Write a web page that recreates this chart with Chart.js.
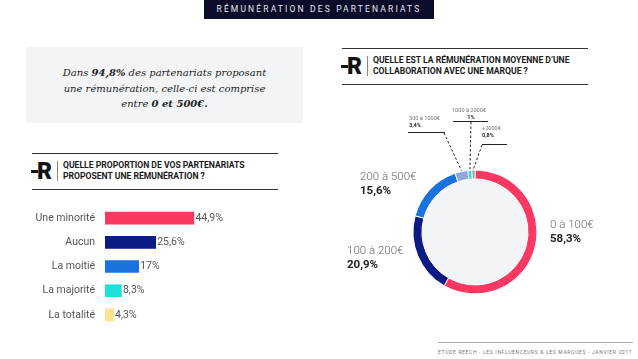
<!DOCTYPE html>
<html><head><meta charset="utf-8">
<script src="https://cdn.jsdelivr.net/npm/chart.js@4"></script>
<style>
html,body{margin:0;padding:0;width:638px;height:359px;overflow:hidden;background:#fff;font-family:Roboto,"Noto Sans",sans-serif;}
.abs{position:absolute;}
#hdr{left:204px;top:0;width:230px;height:19px;background:#0b0c2a;color:#e9e9f2;font-size:8.5px;letter-spacing:2.15px;text-align:center;line-height:19px;}
#quote{left:26px;top:47px;width:277px;height:76px;background:#f3f4f6;}
#quote div{position:absolute;left:0;right:0;top:18px;text-align:center;font-family:"DejaVu Serif",serif;font-style:italic;font-size:10px;line-height:15.5px;color:#222;}
.rule{position:absolute;height:1px;background:#333;}
.sep{position:absolute;width:1px;background:#888;}
.logoR{position:absolute;font-family:Roboto,sans-serif;font-weight:900;font-size:23px;line-height:23px;color:#111;}
.dash{position:absolute;width:7px;height:3px;background:#111;}
.ttl{position:absolute;font-weight:700;font-size:8.6px;line-height:11px;color:#1a1a1a;white-space:nowrap;}
#foot{left:438px;top:349px;font-size:5px;letter-spacing:0.65px;color:#777;white-space:nowrap;}
</style></head>
<body>
<div id="hdr" class="abs">RÉMUNÉRATION DES PARTENARIATS</div>
<div id="quote" class="abs"><div>Dans <b>94,8%</b> des partenariats proposant<br>une rémunération, celle-ci est comprise<br>entre <b>0 et 500€.</b></div></div>

<div class="rule" style="left:32px;top:153px;width:246px"></div>
<div class="rule" style="left:32px;top:189px;width:246px"></div>
<div class="dash" style="left:31px;top:170px"></div>
<div class="logoR" style="left:37px;top:160px">R</div>
<div class="sep" style="left:57px;top:161px;height:20px"></div>
<div class="ttl" style="left:63px;top:160px">QUELLE PROPORTION DE VOS PARTENARIATS<br>PROPOSENT UNE RÉMUNÉRATION ?</div>

<div class="rule" style="left:342px;top:48px;width:246px"></div>
<div class="rule" style="left:342px;top:84px;width:246px"></div>
<div class="dash" style="left:341px;top:65px"></div>
<div class="logoR" style="left:347px;top:55px">R</div>
<div class="sep" style="left:367px;top:56px;height:20px"></div>
<div class="ttl" style="left:373px;top:55px">QUELLE EST LA RÉMUNÉRATION MOYENNE D’UNE<br>COLLABORATION AVEC UNE MARQUE ?</div>

<div class="rule" style="left:438px;top:342px;width:195px;background:#aaa"></div>
<div id="foot" class="abs">ÉTUDE REECH - LES INFLUENCEURS &amp; LES MARQUES - JANVIER 2017</div>

<div class="abs" style="left:0;top:206px;width:303px;height:121px"><canvas id="bar"></canvas></div>
<div class="abs" style="left:335px;top:92px;width:280px;height:280px"><canvas id="donut"></canvas></div>

<script>
// ---- data ----
const barCategories = ["Une minorité", "Aucun", "La moitié", "La majorité", "La totalité"];
const barValues = [44.9, 25.6, 17, 8.3, 4.3];
const barColors = ["#fb3862", "#0c1a84", "#1a72df", "#1fe1dc", "#fbe28c"];

const donutCategories = ["0 à 100€", "100 à 200€", "200 à 500€", "500 à 1000€", "1000 à 2000€", "+2000€"];
const donutValues = [58.3, 20.9, 15.6, 3.4, 1, 0.8];
const donutColors = ["#fb3862", "#0c1a84", "#1a72df", "#8fa9df", "#2fd9d2", "#7aa6a6"];

const fmt = v => String(v).replace('.', ',') + '%';

// ---- bar chart ----
const barLabels = {
  id: 'barLabels',
  afterDatasetsDraw(chart) {
    const ctx = chart.ctx;
    const meta = chart.getDatasetMeta(0);
    ctx.save();
    ctx.font = '10.5px Roboto';
    ctx.fillStyle = '#555';
    ctx.textBaseline = 'middle';
    meta.data.forEach((bar, i) => {
      ctx.textAlign = 'right';
      ctx.fillText(barCategories[i], chart.chartArea.left - 10, bar.y);
      ctx.textAlign = 'left';
      ctx.fillText(fmt(barValues[i]), bar.x + 1.5, bar.y);
    });
    ctx.restore();
  }
};
new Chart(document.getElementById('bar'), {
  type: 'bar',
  data: { labels: barCategories, datasets: [{ data: barValues, backgroundColor: barColors, barThickness: 12, borderWidth: 0 }] },
  options: {
    indexAxis: 'y', responsive: true, maintainAspectRatio: false, animation: false,
    layout: { padding: { left: 105, right: 0, top: 0, bottom: 0 } },
    plugins: { legend: { display: false }, tooltip: { enabled: false } },
    scales: { x: { display: false, min: 0, max: 100 }, y: { display: false } }
  },
  plugins: [barLabels]
});

// ---- donut ----
// label layout relative to the donut centre
const bigLabelPos = { 0: { dx: 75, dy: -7, align: 'left' }, 1: { dx: -128, dy: 19, align: 'left' }, 2: { dx: -115, dy: -55, align: 'left' } };
const smallLabelPos = {
  3: { tx: -66, ty: -113, align: 'left', ux0: -67, ux1: -30, uy: -100, lx: -31 },
  4: { tx: -6, ty: -121, align: 'center', ux0: -22, ux1: 13, uy: -111, lx: -4 },
  5: { tx: 7, ty: -103, align: 'left', ux0: 7, ux1: 32, uy: -88, lx: 7 }
};
const donutDeco = {
  id: 'donutDeco',
  beforeDatasetsDraw(chart) {
    const arc = chart.getDatasetMeta(0).data[0];
    const ctx = chart.ctx;
    ctx.save();
    ctx.fillStyle = '#f3f4f7';
    ctx.beginPath(); ctx.arc(arc.x, arc.y, arc.innerRadius, 0, Math.PI * 2); ctx.fill();
    ctx.restore();
  },
  afterDatasetsDraw(chart) {
    const ctx = chart.ctx;
    const meta = chart.getDatasetMeta(0);
    ctx.save();
    ctx.textBaseline = 'middle';
    meta.data.forEach((arc, i) => {
      const cx = arc.x, cy = arc.y;
      if (bigLabelPos[i]) {
        const p = bigLabelPos[i];
        ctx.textAlign = p.align;
        ctx.font = '300 11.5px Roboto'; ctx.fillStyle = '#666';
        ctx.fillText(donutCategories[i], cx + p.dx, cy + p.dy);
        ctx.font = 'bold 11.5px Roboto'; ctx.fillStyle = '#222';
        ctx.fillText(fmt(donutValues[i]), cx + p.dx, cy + p.dy + 14);
      } else if (smallLabelPos[i]) {
        const p = smallLabelPos[i];
        const mid = (arc.startAngle + arc.endAngle) / 2;
        const px = cx + Math.cos(mid) * arc.outerRadius, py = cy + Math.sin(mid) * arc.outerRadius;
        ctx.textAlign = p.align;
        ctx.font = '5.6px Roboto'; ctx.fillStyle = '#777';
        ctx.fillText(donutCategories[i], cx + p.tx, cy + p.ty);
        ctx.font = 'bold 5.6px Roboto'; ctx.fillStyle = '#222';
        ctx.fillText(fmt(donutValues[i]), cx + p.tx + (p.align === 'center' ? 2 : 0), cy + p.ty + 7);
        ctx.strokeStyle = '#222'; ctx.lineWidth = 1;
        ctx.setLineDash([]);
        ctx.beginPath(); ctx.moveTo(cx + p.ux0, cy + p.uy + 0.5); ctx.lineTo(cx + p.ux1, cy + p.uy + 0.5); ctx.stroke();
        ctx.setLineDash([2.5, 2]);
        ctx.beginPath(); ctx.moveTo(cx + p.lx, cy + p.uy + 1); ctx.lineTo(px, py - 1); ctx.stroke();
      }
    });
    ctx.restore();
  }
};
new Chart(document.getElementById('donut'), {
  type: 'doughnut',
  data: { labels: donutCategories, datasets: [{ data: donutValues, backgroundColor: donutColors, borderColor: '#ffffff', borderWidth: 1 }] },
  options: {
    responsive: true, maintainAspectRatio: false, animation: false,
    radius: 62, cutout: '85.5%',
    layout: { padding: 0 },
    plugins: { legend: { display: false }, tooltip: { enabled: false } }
  },
  plugins: [donutDeco]
});
</script>
</body></html>
